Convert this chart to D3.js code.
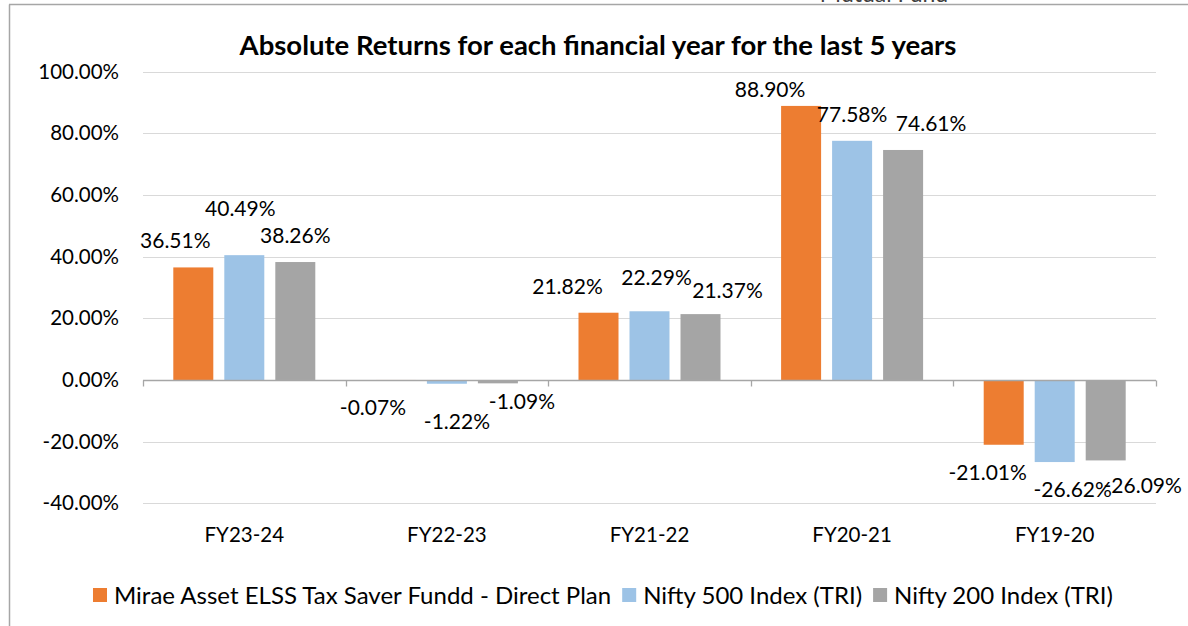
<!DOCTYPE html>
<html>
<head>
<meta charset="utf-8">
<script src="https://cdn.jsdelivr.net/npm/d3@7"></script>
<style>
  html, body { margin: 0; padding: 0; background: #fff; }
  svg { display: block; font-family: Lato, "Open Sans", sans-serif; }
</style>
</head>
<body>
<svg id="chart" width="1188" height="626"></svg>
<script>
// ---- data ----
const categories = ["FY23-24", "FY22-23", "FY21-22", "FY20-21", "FY19-20"];
const seriesNames = ["Mirae Asset ELSS Tax Saver Fundd - Direct Plan", "Nifty 500 Index (TRI)", "Nifty 200 Index (TRI)"];
const miraeValues = [36.51, -0.07, 21.82, 88.90, -21.01];
const nifty500Values = [40.49, -1.22, 22.29, 77.58, -26.62];
const nifty200Values = [38.26, -1.09, 21.37, 74.61, -26.09];
const yTickValues = [-40, -20, 0, 20, 40, 60, 80, 100];
const chartTitle = "Absolute Returns for each financial year for the last 5 years";

// ---- styling / layout ----
const colors = ["#ED7D31", "#9DC3E6", "#A5A5A5"];
// manual label nudges (px) per series, per category, as in the reference
const labelNudges = [
  [[-18, 0], [-23, 0], [-31, 0], [-31, 10], [-16, 0]],
  [[-4, -20], [10, 10], [7, -7], [0, 0], [18, 0]],
  [[0, 0], [24, -9], [27, 3], [28, 0], [37, -2]]
];
const pct = d => d3.format(".2f")(d).replace("\u2212", "-") + "%";

const svg = d3.select("#chart");
const seriesValues = [miraeValues, nifty500Values, nifty200Values];
const plot = { left: 143, right: 1156, top: 71.7, bottom: 503.3 };

const x = d3.scaleBand().domain(categories).range([plot.left, plot.right]);
const groupSpan = 142;
const xs = d3.scaleBand().domain(d3.range(3))
  .range([(x.bandwidth() - groupSpan) / 2, (x.bandwidth() + groupSpan) / 2])
  .paddingInner(11 / 51).paddingOuter(0);
const y = d3.scaleLinear().domain([-40, 100]).range([plot.bottom, plot.top]);

// frame (outer chart border fragment)
svg.append("line").attr("x1", 9.5).attr("x2", 9.5).attr("y1", 4.5).attr("y2", 626)
  .attr("stroke", "#a6a6a6").attr("stroke-width", 1.5);
svg.append("line").attr("x1", 9).attr("x2", 1188).attr("y1", 4.5).attr("y2", 4.5)
  .attr("stroke", "#a6a6a6").attr("stroke-width", 1.5);
// cut-off text above the frame
svg.append("text").attr("x", 884).attr("y", 2).attr("text-anchor", "middle")
  .attr("font-size", 23).attr("fill", "#404040").text("Mutual Fund");

// title
svg.append("text").attr("x", 598).attr("y", 55).attr("text-anchor", "middle")
  .attr("font-size", 27.5).attr("font-weight", "bold").attr("fill", "#000")
  .text(chartTitle);

// gridlines
svg.append("g").selectAll("line").data(yTickValues.filter(v => v !== 0)).join("line")
  .attr("x1", plot.left).attr("x2", plot.right)
  .attr("y1", d => Math.round(y(d)) + 0.5).attr("y2", d => Math.round(y(d)) + 0.5)
  .attr("stroke", "#d9d9d9").attr("stroke-width", 1.2);

// y axis labels
const yAxis = d3.axisLeft(y).tickValues(yTickValues)
  .tickFormat(pct).tickSize(0).tickPadding(24);
const yG = svg.append("g").attr("transform", `translate(${plot.left},0)`).call(yAxis);
yG.select(".domain").remove();
yG.selectAll("text").attr("font-size", 20.5).attr("fill", "#000")
  .attr("font-family", "Lato, sans-serif").attr("dy", "0.32em");

// bars
const barsData = [];
categories.forEach((c, ci) => {
  seriesValues.forEach((vals, si) => {
    barsData.push({ cat: c, ci, si, v: vals[ci] });
  });
});
svg.append("g").selectAll("rect").data(barsData).join("rect")
  .attr("x", d => x(d.cat) + xs(d.si))
  .attr("width", xs.bandwidth())
  .attr("y", d => Math.min(y(d.v), y(0)))
  .attr("height", d => Math.abs(y(d.v) - y(0)))
  .attr("fill", d => colors[d.si]);

// zero axis line with category ticks
const zeroY = Math.round(y(0)) + 0.5;
svg.append("line").attr("x1", plot.left).attr("x2", plot.right)
  .attr("y1", zeroY).attr("y2", zeroY).attr("stroke", "#a6a6a6").attr("stroke-width", 1.3);
const boundaries = categories.map(c => x(c)).concat([plot.right]);
svg.append("g").selectAll("line").data(boundaries).join("line")
  .attr("x1", d => Math.round(d) + 0.5).attr("x2", d => Math.round(d) + 0.5)
  .attr("y1", zeroY).attr("y2", zeroY + 6)
  .attr("stroke", "#a6a6a6").attr("stroke-width", 1.3);

// category labels
const xG = svg.append("g").attr("transform", `translate(0,${plot.bottom})`)
  .call(d3.axisBottom(x).tickSize(0).tickPadding(0));
xG.select(".domain").remove();
xG.selectAll("text").attr("font-size", 20.5).attr("fill", "#000")
  .attr("font-family", "Lato, sans-serif").attr("dy", null).attr("y", 38.5);

// data labels
svg.append("g").selectAll("text").data(barsData).join("text")
  .attr("x", d => x(d.cat) + xs(d.si) + xs.bandwidth() / 2 + labelNudges[d.si][d.ci][0])
  .attr("y", d => (d.v >= 0 ? y(d.v) - 19 : y(d.v) + 35) + labelNudges[d.si][d.ci][1])
  .attr("text-anchor", "middle").attr("font-size", 21).attr("fill", "#000")
  .text(d => pct(d.v));

// legend
const legendItems = seriesNames.map((n, i) => ({ name: n, color: colors[i] }));
const legend = svg.append("g");
let lx = 0;
const items = legend.selectAll("g").data(legendItems).join("g");
items.append("rect").attr("width", 14).attr("height", 14).attr("y", -7).attr("fill", d => d.color);
items.append("text").attr("x", 21).attr("dy", "0.36em").attr("font-size", 24).attr("fill", "#000").text(d => d.name);
items.each(function () {
  const g = d3.select(this);
  g.attr("transform", `translate(${lx},0)`);
  lx += this.getBBox().width + 11;
});
const totalW = lx - 11;
legend.attr("transform", `translate(${603 - totalW / 2},595)`);
</script>
</body>
</html>
